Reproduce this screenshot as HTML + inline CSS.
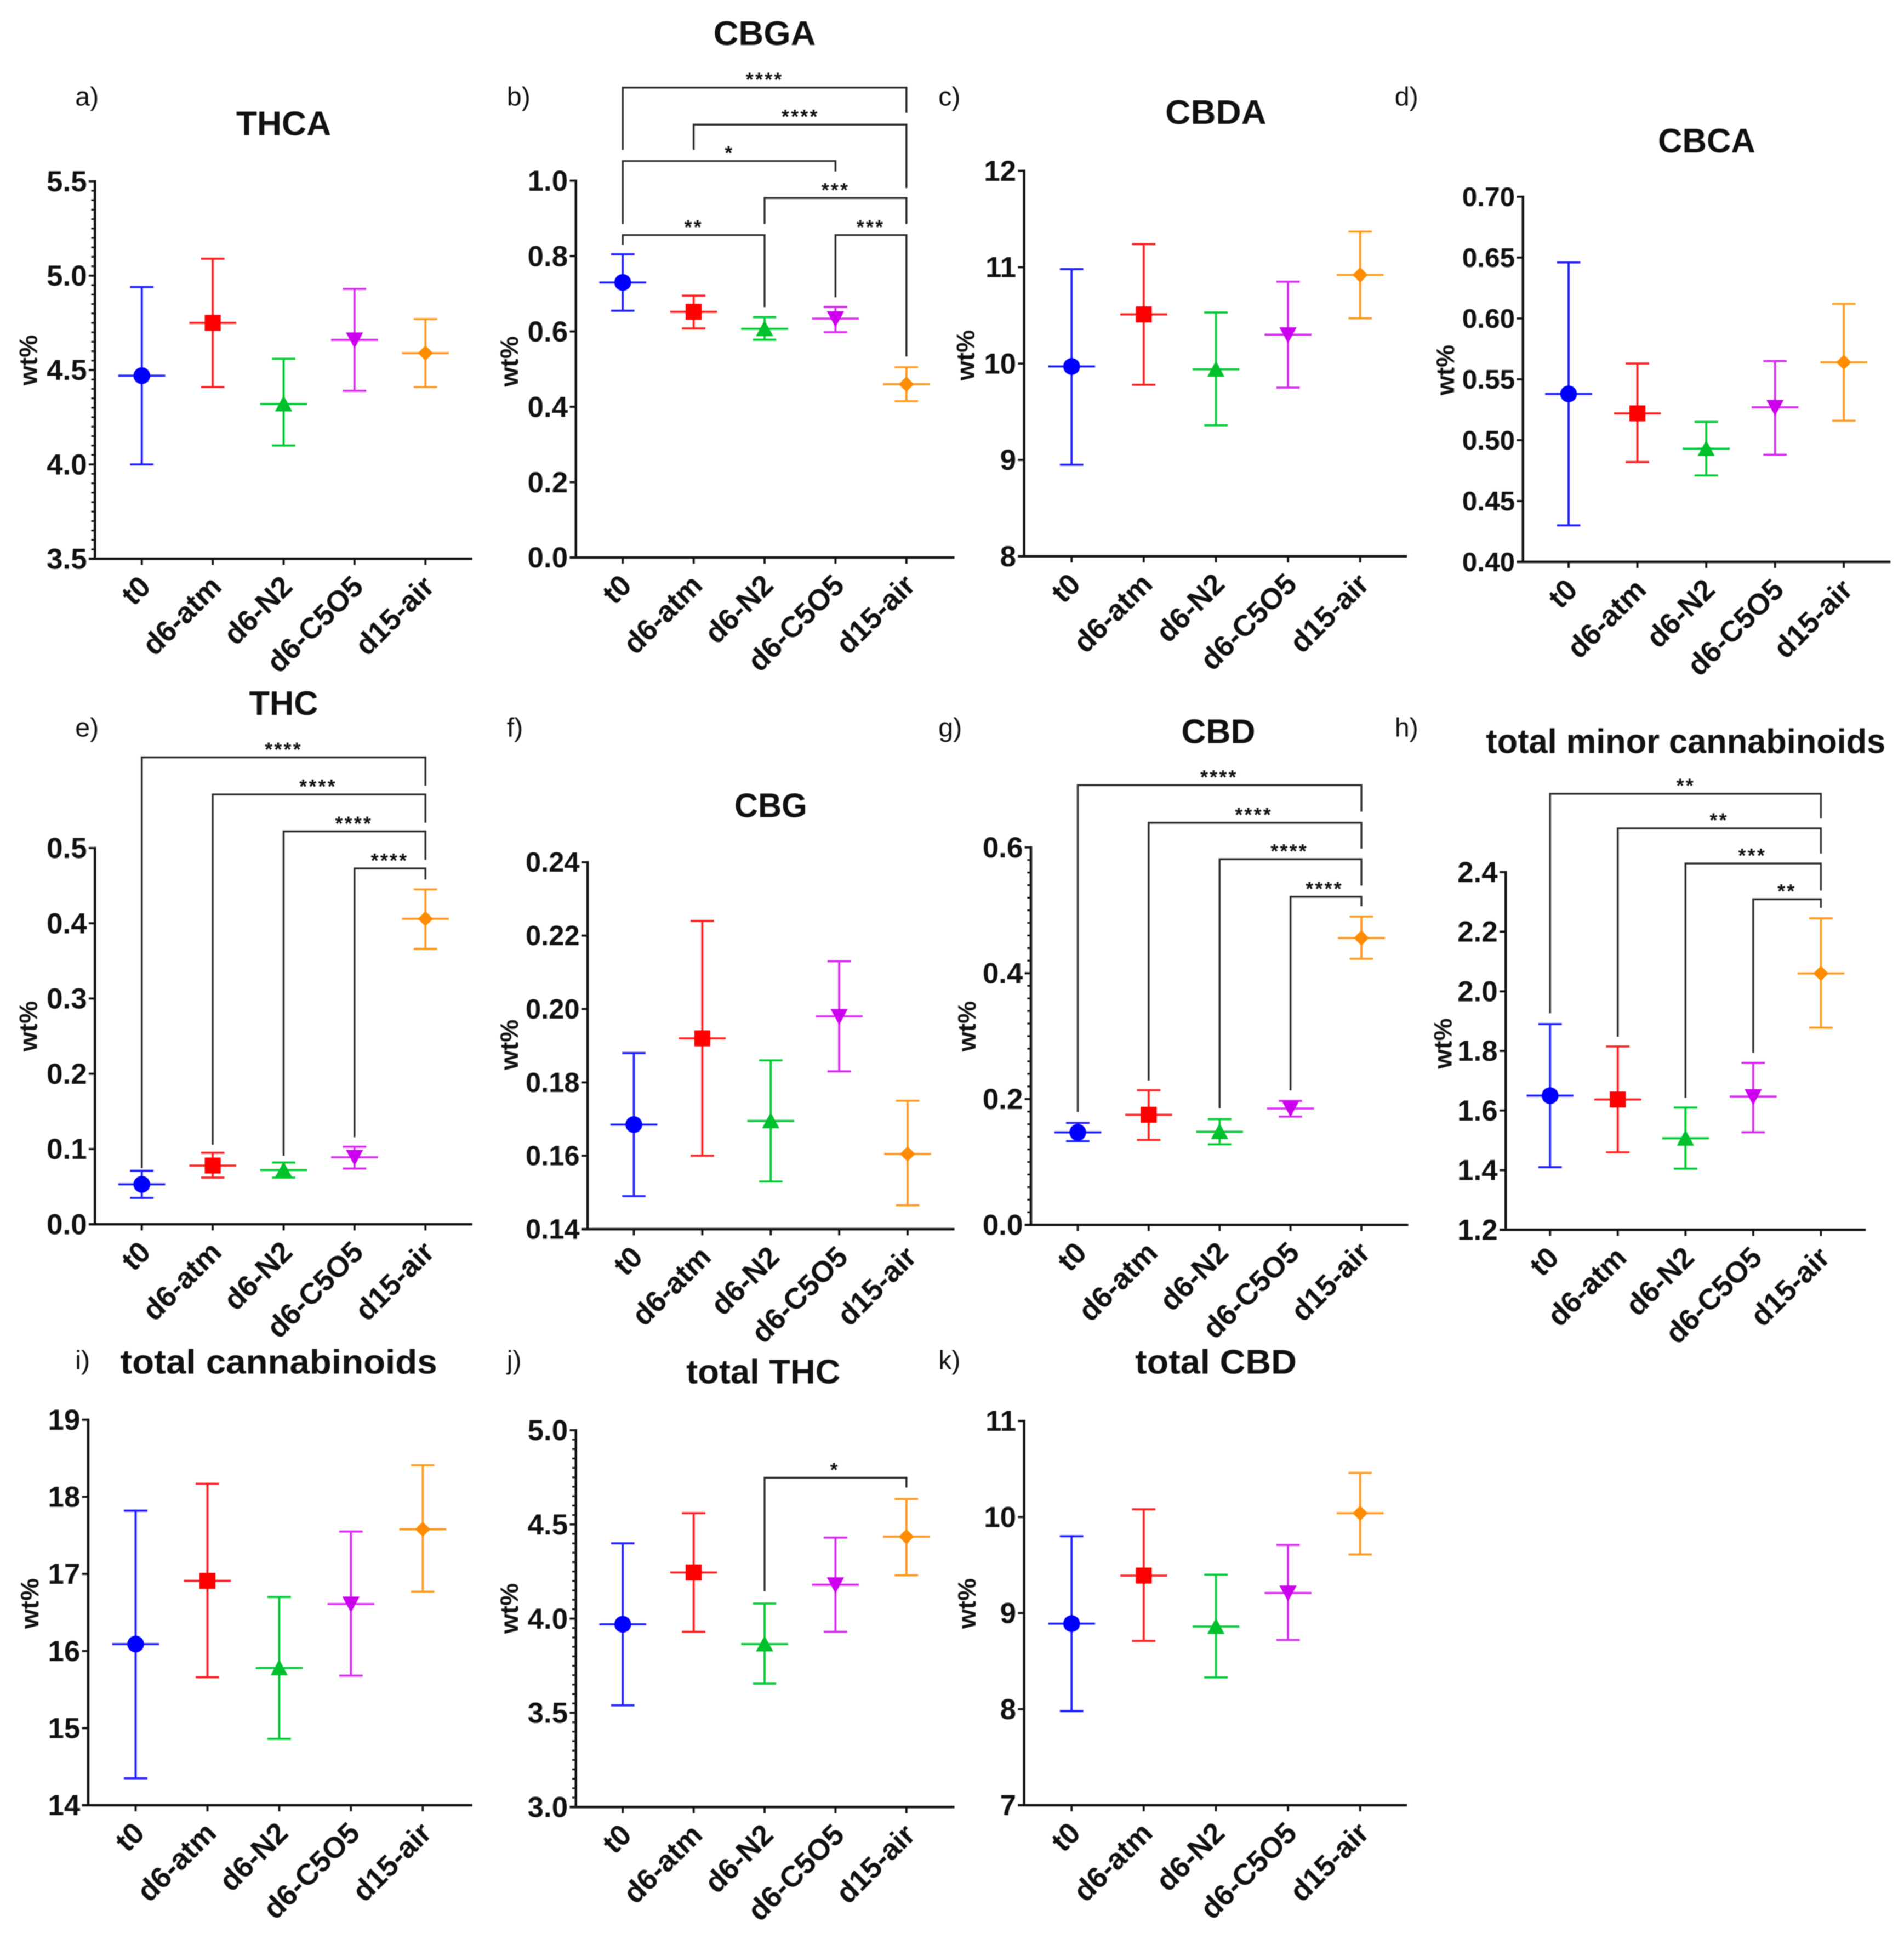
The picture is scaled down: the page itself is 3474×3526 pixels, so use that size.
<!DOCTYPE html>
<html lang="en">
<head>
<meta charset="utf-8">
<title>Cannabinoid content by storage condition</title>
<style>
html,body{margin:0;padding:0;background:#fff;}
body{width:3474px;height:3526px;overflow:hidden;}
svg{display:block;filter:blur(0.9px);}
text{font-family:"Liberation Sans",sans-serif;fill:#111;}
</style>
</head>
<body>
<svg id="figure" xmlns="http://www.w3.org/2000/svg" width="3474" height="3526" viewBox="0 0 1544 1567.1"></svg>
<script>
const categories = ['t0','d6-atm','d6-N2','d6-C5O5','d15-air'];

const thcaTicks = ['3.5','4.0','4.5','5.0','5.5'];
const thcaMean = [4.47,4.75,4.32,4.66,4.59];
const thcaLow = [4.00,4.41,4.10,4.39,4.41];
const thcaHigh = [4.94,5.09,4.56,4.93,4.77];

const cbgaTicks = ['0.0','0.2','0.4','0.6','0.8','1.0'];
const cbgaMean = [0.73,0.652,0.607,0.634,0.46];
const cbgaLow = [0.655,0.608,0.578,0.598,0.415];
const cbgaHigh = [0.805,0.695,0.638,0.665,0.505];

const cbdaTicks = ['8','9','10','11','12'];
const cbdaMean = [9.97,10.51,9.94,10.30,10.92];
const cbdaLow = [8.95,9.78,9.36,9.75,10.47];
const cbdaHigh = [10.98,11.24,10.53,10.85,11.37];

const cbcaTicks = ['0.40','0.45','0.50','0.55','0.60','0.65','0.70'];
const cbcaMean = [0.538,0.522,0.493,0.527,0.564];
const cbcaLow = [0.43,0.482,0.471,0.488,0.516];
const cbcaHigh = [0.646,0.563,0.515,0.565,0.612];

const thcTicks = ['0.0','0.1','0.2','0.3','0.4','0.5'];
const thcMean = [0.053,0.078,0.072,0.089,0.406];
const thcLow = [0.035,0.062,0.062,0.074,0.366];
const thcHigh = [0.071,0.095,0.082,0.103,0.445];

const cbgTicks = ['0.14','0.16','0.18','0.20','0.22','0.24'];
const cbgMean = [0.1685,0.192,0.1695,0.198,0.1605];
const cbgLow = [0.149,0.160,0.153,0.183,0.1465];
const cbgHigh = [0.188,0.224,0.186,0.213,0.175];

const cbdTicks = ['0.0','0.2','0.4','0.6'];
const cbdMean = [0.147,0.175,0.148,0.185,0.456];
const cbdLow = [0.133,0.135,0.128,0.172,0.423];
const cbdHigh = [0.162,0.214,0.168,0.197,0.490];

const minorTicks = ['1.2','1.4','1.6','1.8','2.0','2.2','2.4'];
const minorMean = [1.65,1.637,1.507,1.647,2.06];
const minorLow = [1.41,1.46,1.405,1.527,1.878];
const minorHigh = [1.89,1.815,1.61,1.76,2.245];

const totalTicks = ['14','15','16','17','18','19'];
const totalMean = [16.09,16.91,15.78,16.61,17.58];
const totalLow = [14.35,15.66,14.86,15.68,16.77];
const totalHigh = [17.82,18.17,16.70,17.55,18.41];

const totalThcTicks = ['3.0','3.5','4.0','4.5','5.0'];
const totalThcMean = [3.97,4.245,3.865,4.18,4.435];
const totalThcLow = [3.54,3.93,3.655,3.93,4.23];
const totalThcHigh = [4.40,4.56,4.08,4.43,4.635];

const totalCbdTicks = ['7','8','9','10','11'];
const totalCbdMean = [8.89,9.39,8.86,9.21,10.04];
const totalCbdLow = [7.98,8.71,8.33,8.72,9.61];
const totalCbdHigh = [9.80,10.08,9.40,9.71,10.46];

/* Layout (not data): frame geometry and annotation placement for every panel. */
const seriesColors = ['#1f1fff','#ff2020','#00cc33','#d92cf2','#ff9a1f'];
const markerColors = ['#0000ff','#ff0000','#00c02b','#cc00ee','#ff8c00'];

const panels = [
 {id:'thca',tag:'a)',tagX:61,tagY:85.5,title:'THCA',tx:230,ty:109.5,tw:77,ax:77,top:147,bot:453,x0:115,step:57.5,end:383,wx:30,wy:292,ticks:thcaTicks,mean:thcaMean,low:thcaLow,high:thcaHigh,minor:10,br:[]},
 {id:'cbga',tag:'b)',tagX:411,tagY:85.5,title:'CBGA',tx:620,ty:36.5,tw:83,ax:467,top:146.5,bot:452,x0:505,step:57.5,end:774,wx:420,wy:293,ticks:cbgaTicks,mean:cbgaMean,low:cbgaLow,high:cbgaHigh,br:[
  [0,4,71,121.5,91.5,'****',620,71],
  [1,4,101,121.5,152.5,'****',649,101],
  [0,3,130.5,181.5,139,'*',591.5,130.5],
  [2,4,160.5,181.5,181.5,'***',677.5,160.5],
  [0,2,190.5,198.5,249,'**',562.5,190.5],
  [3,4,190.5,241,289,'***',706,190.5]]},
 {id:'cbda',tag:'c)',tagX:761,tagY:85.5,title:'CBDA',tx:986,ty:100.5,tw:82,ax:830.5,top:138.5,bot:451,x0:869,step:58.5,end:1141,wx:790,wy:288,ticks:cbdaTicks,mean:cbdaMean,low:cbdaLow,high:cbdaHigh,br:[]},
 {id:'cbca',tag:'d)',tagX:1131,tagY:85.5,title:'CBCA',tx:1384,ty:123.5,tw:79,ax:1235,top:159.5,bot:455.5,x0:1272,step:55.8,end:1533,wx:1179,wy:300,tickFs:22,ticks:cbcaTicks,mean:cbcaMean,low:cbcaLow,high:cbcaHigh,br:[]},
 {id:'thc',tag:'e)',tagX:61,tagY:597,title:'THC',tx:230,ty:579.5,tw:56,ax:77,top:687.5,bot:992.5,x0:115,step:57.5,end:383,wx:30,wy:832,ticks:thcTicks,mean:thcMean,low:thcLow,high:thcHigh,br:[
  [0,4,614,947,637,'****',230,614],
  [1,4,644,928,667,'****',258,644],
  [2,4,674,937,697,'****',287,674],
  [3,4,704,922,713,'****',316,704]]},
 {id:'cbg',tag:'f)',tagX:411,tagY:597,title:'CBG',tx:625,ty:662.5,tw:59,ax:476.5,top:699,bot:996.5,x0:514,step:55.5,end:774,wx:420,wy:847,tickFs:22.5,ticks:cbgTicks,mean:cbgMean,low:cbgLow,high:cbgHigh,br:[]},
 {id:'cbd',tag:'g)',tagX:761,tagY:597,title:'CBD',tx:988,ty:602.5,tw:60,ax:836,top:687,bot:993,x0:874,step:57.5,end:1142,wx:791,wy:832,ticks:cbdTicks,mean:cbdMean,low:cbdLow,high:cbdHigh,minor:10,br:[
  [0,4,636.5,901.5,658,'****',988.6,636.5],
  [1,4,667,876,688,'****',1016.7,667],
  [2,4,696.5,898.5,718,'****',1045.6,696.5],
  [3,4,727,884,734.7,'****',1074,727]]},
 {id:'minor',tag:'h)',tagX:1131,tagY:597,title:'total minor cannabinoids',tx:1367,ty:610.5,tw:324,ax:1221,top:707,bot:997,x0:1257,step:54.9,end:1513,wx:1177,wy:846,ticks:minorTicks,mean:minorMean,low:minorLow,high:minorHigh,br:[
  [0,4,643.5,821.5,663.5,'**',1367,643.5],
  [1,4,671.5,840.5,692,'**',1394,671.5],
  [2,4,700,890,722,'***',1421,700],
  [3,4,729,853.5,736,'**',1449,729]]},
 {id:'total',tag:'i)',tagX:61,tagY:1110,title:'total cannabinoids',tx:226,ty:1113.5,tw:257,ax:71.5,top:1151,bot:1463.5,x0:110,step:58.2,end:383,wx:31,wy:1300,ticks:totalTicks,mean:totalMean,low:totalLow,high:totalHigh,br:[]},
 {id:'total-thc',tag:'j)',tagX:411,tagY:1110,title:'total THC',tx:619,ty:1121.5,tw:125,ax:467,top:1159.5,bot:1465,x0:505,step:57.5,end:774,wx:420,wy:1304,ticks:totalThcTicks,mean:totalThcMean,low:totalThcLow,high:totalThcHigh,minor:10,br:[
  [2,4,1198,1290,1206,'*',677,1198]]},
 {id:'total-cbd',tag:'k)',tagX:761,tagY:1110,title:'total CBD',tx:986,ty:1113.5,tw:131,ax:830.5,top:1152,bot:1463.5,x0:869,step:58.5,end:1141,wx:791,wy:1300,ticks:totalCbdTicks,mean:totalCbdMean,low:totalCbdLow,high:totalCbdHigh,br:[]}
];

const NS = 'http://www.w3.org/2000/svg';
const svg = document.getElementById('figure');

function mk(tag, parent, attrs, txt){
  const n = document.createElementNS(NS, tag);
  for (const k in attrs) n.setAttribute(k, attrs[k]);
  if (txt !== undefined) n.textContent = txt;
  parent.appendChild(n);
  return n;
}

function drawMarker(g, kind, x, y, color){
  let m;
  if (kind === 0) m = mk('circle', g, {cx:x, cy:y, r:6.8, fill:color});
  if (kind === 1) m = mk('rect', g, {x:x-6.5, y:y-6.5, width:13, height:13, fill:color});
  if (kind === 2) m = mk('polygon', g, {points:(x-7)+','+(y+6)+' '+x+','+(y-7)+' '+(x+7)+','+(y+6), fill:color});
  if (kind === 3) m = mk('polygon', g, {points:(x-7)+','+(y-6)+' '+x+','+(y+7)+' '+(x+7)+','+(y-6), fill:color});
  if (kind === 4) m = mk('polygon', g, {points:(x-6.2)+','+y+' '+x+','+(y-6.2)+' '+(x+6.2)+','+y+' '+x+','+(y+6.2), fill:color});
  
  
}

panels.forEach(function(p){
  const yMin = parseFloat(p.ticks[0]);
  const yMax = parseFloat(p.ticks[p.ticks.length-1]);
  const yScale = function(v){ return p.bot - (v - yMin) / (yMax - yMin) * (p.bot - p.top); };
  const xScale = function(i){ return p.x0 + i * p.step; };
  const tickFs = p.tickFs || 23.5;

  const g = mk('g', svg, {});
  
  

  const tag = mk('text', g, {x:p.tagX, y:p.tagY, 'font-size':21.5}, p.tag);
  
  

  const title = mk('text', g, {x:p.tx, y:p.ty, 'font-size':27.5, 'font-weight':'bold', 'text-anchor':'middle', textLength:p.tw, lengthAdjust:'spacingAndGlyphs'}, p.title);
  
  

  const yTitle = mk('text', g, {x:p.wx, y:p.wy, 'font-size':20.5, 'font-weight':'bold', 'text-anchor':'middle', transform:'rotate(-90 '+p.wx+' '+p.wy+')'}, 'wt%');
  
  

  /* axes */
  const yAxis = mk('line', g, {x1:p.ax, y1:p.top-0.9, x2:p.ax, y2:p.bot+0.9, stroke:'#111', 'stroke-width':2});
  
  
  const xAxis = mk('line', g, {x1:p.ax-5, y1:p.bot, x2:p.end, y2:p.bot, stroke:'#111', 'stroke-width':2});
  
  

  p.ticks.forEach(function(label, i){
    const v = parseFloat(label);
    const y = yScale(v);
    const t = mk('line', g, {x1:p.ax-5, y1:y, x2:p.ax, y2:y, stroke:'#111', 'stroke-width':1.7});
    
    
    const tl = mk('text', g, {x:p.ax-6.5, y:y+tickFs*0.345, 'font-size':tickFs, 'font-weight':'bold', 'text-anchor':'end'}, label);
    
    
    if (p.minor && i < p.ticks.length-1) {
      const next = parseFloat(p.ticks[i+1]);
      for (let k = 1; k < p.minor; k++) {
        const my = yScale(v + (next - v) * k / p.minor);
        const mt = mk('line', g, {x1:p.ax-3, y1:my, x2:p.ax, y2:my, stroke:'#111', 'stroke-width':1.4});
        
        
      }
    }
  });

  categories.forEach(function(cat, i){
    const x = xScale(i);
    const t = mk('line', g, {x1:x, y1:p.bot, x2:x, y2:p.bot+5, stroke:'#111', 'stroke-width':1.7});
    
    
    const lx = x + 8.5, ly = p.bot + 24;
    const tl = mk('text', g, {x:lx, y:ly, 'font-size':24, 'font-weight':'bold', 'text-anchor':'end', transform:'rotate(-45 '+lx+' '+ly+')'}, cat);
    
    
  });

  /* series */
  categories.forEach(function(cat, i){
    const x = xScale(i);
    const col = seriesColors[i];
    const yM = yScale(p.mean[i]), yL = yScale(p.low[i]), yH = yScale(p.high[i]);
    const s = mk('g', g, {stroke:col, 'stroke-width':1.7, fill:'none'});
    
    
    const stem = mk('line', s, {x1:x, y1:yH, x2:x, y2:yL});
    
    
    const capH = mk('line', s, {x1:x-9.5, y1:yH, x2:x+9.5, y2:yH});
    
    
    const capL = mk('line', s, {x1:x-9.5, y1:yL, x2:x+9.5, y2:yL});
    
    
    const ml = mk('line', s, {x1:x-19, y1:yM, x2:x+19, y2:yM});
    
    
    const mg = mk('g', s, {stroke:'none'});
    drawMarker(mg, i, x, yM, markerColors[i]);
  });

  /* significance brackets: [from, to, topY, leftEndY, rightEndY, stars, starX, starY] */
  p.br.forEach(function(b){
    const xa = xScale(b[0]), xb = xScale(b[1]);
    const path = mk('polyline', g, {points:xa+','+b[3]+' '+xa+','+b[2]+' '+xb+','+b[2]+' '+xb+','+b[4], fill:'none', stroke:'#2a2a2a', 'stroke-width':1.5});
    
    
    const st = mk('text', g, {x:b[6], y:b[7]-1, 'font-size':16, 'font-weight':'bold', 'text-anchor':'middle', 'letter-spacing':'1.4'}, b[5]);
    
    
  });
});
</script>
</body>
</html>
